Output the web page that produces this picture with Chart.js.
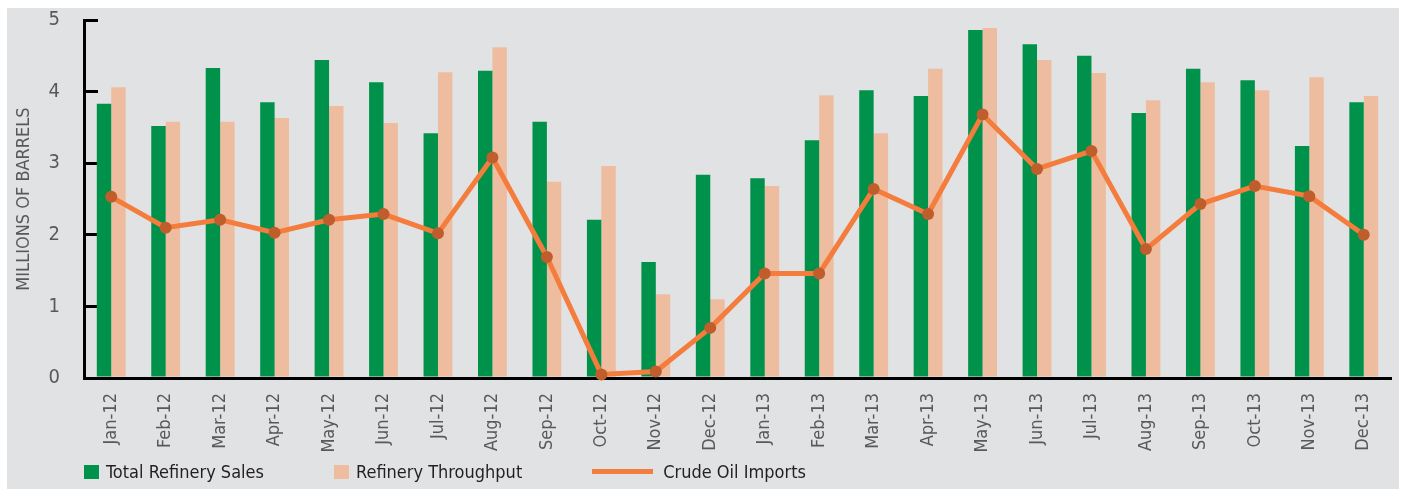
<!DOCTYPE html>
<html>
<head>
<meta charset="utf-8">
<script src="https://cdn.jsdelivr.net/npm/chart.js@4.4.0/dist/chart.umd.min.js"></script>
<style>
  html, body { margin: 0; padding: 0; background: #fff; }
  #panel { position: absolute; left: 7px; top: 8px; width: 1392px; height: 481px; background: #e1e2e4; }
  #barrels-chart { position: absolute; left: 0; top: 0; }
  #legend { position: absolute; left: 77px; top: 453px; display: flex; align-items: center; gap: 70px;
    font-family: "DejaVu Sans Condensed", "Liberation Sans Narrow", sans-serif; font-size: 18px; color: #231f20; }
  #legend .item { display: flex; align-items: center; }
  #legend .box { width: 15px; height: 14px; margin-right: 7px; }
  #legend .line { width: 61px; height: 5px; margin-right: 10px; }
</style>
</head>
<body>
<div id="panel">
  <canvas id="barrels-chart" width="1392" height="481"></canvas>
  <div id="legend"></div>
</div>
<script>
const months = ['Jan-12', 'Feb-12', 'Mar-12', 'Apr-12', 'May-12', 'Jun-12', 'Jul-12', 'Aug-12', 'Sep-12', 'Oct-12', 'Nov-12', 'Dec-12',
                'Jan-13', 'Feb-13', 'Mar-13', 'Apr-13', 'May-13', 'Jun-13', 'Jul-13', 'Aug-13', 'Sep-13', 'Oct-13', 'Nov-13', 'Dec-13'];
const refinerySales = [3.83, 3.52, 4.33, 3.85, 4.44, 4.13, 3.42, 4.29, 3.58, 2.21, 1.62, 2.84,
                       2.79, 3.32, 4.02, 3.94, 4.86, 4.66, 4.50, 3.70, 4.32, 4.16, 3.24, 3.85];
const refineryThroughput = [4.06, 3.58, 3.58, 3.63, 3.80, 3.56, 4.27, 4.62, 2.74, 2.96, 1.17, 1.10,
                            2.68, 3.95, 3.42, 4.32, 4.89, 4.44, 4.26, 3.88, 4.13, 4.02, 4.20, 3.94];
const crudeImports = [2.53, 2.10, 2.21, 2.03, 2.21, 2.29, 2.02, 3.08, 1.69, 0.05, 0.09, 0.70,
                      1.46, 1.46, 2.64, 2.29, 3.68, 2.92, 3.17, 1.80, 2.43, 2.68, 2.54, 2.00];
const yTicks = [0, 1, 2, 3, 4, 5];

const narrow = '"DejaVu Sans Condensed", "Liberation Sans Narrow", sans-serif';
const tickGrey = '#58595b';

const ctx = document.getElementById('barrels-chart').getContext('2d');

const chart = new Chart(ctx, {
  data: {
    labels: months,
    datasets: [
      {
        type: 'line',
        label: 'Crude Oil Imports',
        data: crudeImports,
        borderColor: '#f47c3c',
        borderWidth: 5,
        pointRadius: 6,
        pointBackgroundColor: '#bf5e2c',
        pointBorderColor: '#bf5e2c',
        pointBorderWidth: 0,
        tension: 0,
        clip: false,
        order: 0
      },
      {
        type: 'bar',
        label: 'Total Refinery Sales',
        data: refinerySales,
        backgroundColor: '#00924a',
        categoryPercentage: 0.53,
        barPercentage: 1,
        order: 1
      },
      {
        type: 'bar',
        label: 'Refinery Throughput',
        data: refineryThroughput,
        backgroundColor: '#eebda0',
        categoryPercentage: 0.53,
        barPercentage: 1,
        order: 2
      }
    ]
  },
  options: {
    responsive: false,
    animation: false,
    layout: { padding: { top: 12, right: 8, bottom: 30, left: 0 } },
    plugins: {
      legend: { display: false },
      tooltip: { enabled: false }
    },
    scales: {
      x: {
        grid: { display: false },
        border: { display: true, color: '#000', width: 3 },
        ticks: {
          autoSkip: false,
          minRotation: 90,
          maxRotation: 90,
          padding: 7,
          color: tickGrey,
          font: { family: narrow, size: 18 }
        },
        afterFit: (axis) => {
          axis.height = 81;
          axis.paddingLeft = 0;
          axis.paddingRight = 0;
        }
      },
      y: {
        min: 0,
        max: 5,
        afterBuildTicks: (axis) => { axis.ticks = yTicks.map(v => ({ value: v })); },
        // ticks point inwards, like the original
        grid: { drawOnChartArea: false, color: '#000', lineWidth: 3, tickLength: -14 },
        border: { display: true, color: '#000', width: 3 },
        ticks: {
          padding: 38,
          color: tickGrey,
          font: { family: narrow, size: 20 }
        },
        title: {
          display: true,
          text: 'MILLIONS OF BARRELS',
          color: tickGrey,
          font: { family: narrow, size: 18 },
          padding: { top: 7, bottom: 0 }
        },
        afterFit: (axis) => {
          axis.width = 77;
          axis.paddingTop = 0;
          axis.paddingBottom = 0;
        }
      }
    }
  }
});

// legend in the reference order: two bar boxes, then the line
const legendEl = document.getElementById('legend');
[1, 2, 0].forEach(i => {
  const ds = chart.data.datasets[i];
  const item = document.createElement('div');
  item.className = 'item';
  const swatch = document.createElement('span');
  swatch.className = ds.type === 'line' ? 'line' : 'box';
  swatch.style.background = ds.type === 'line' ? ds.borderColor : ds.backgroundColor;
  item.appendChild(swatch);
  item.appendChild(document.createTextNode(ds.label));
  legendEl.appendChild(item);
});
</script>
</body>
</html>
